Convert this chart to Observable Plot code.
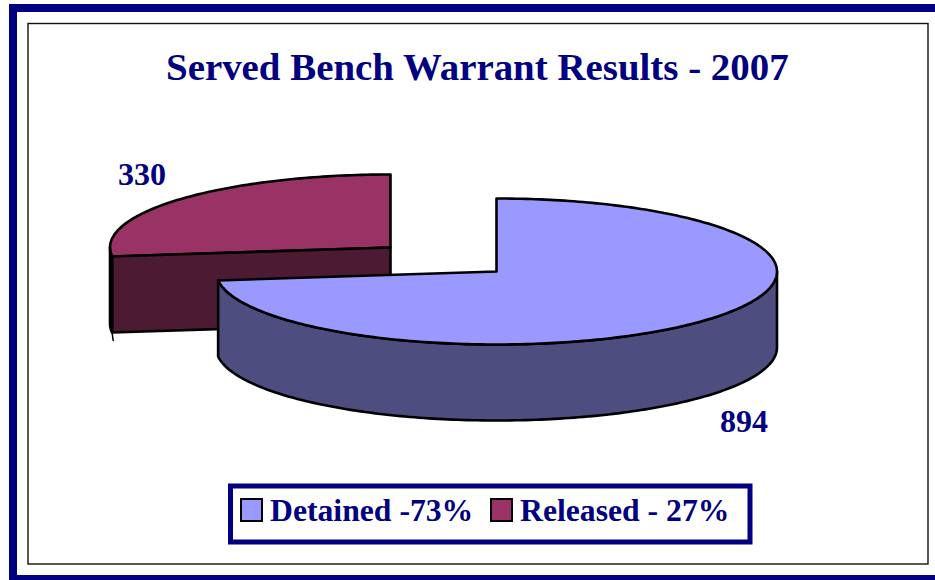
<!DOCTYPE html>
<html>
<head>
<meta charset="utf-8">
<script src="https://cdn.jsdelivr.net/npm/d3@7"></script>
<script src="https://cdn.jsdelivr.net/npm/@observablehq/plot@0.6"></script>
<style>html,body{margin:0;padding:0;background:#fff;overflow:hidden}svg{display:block}</style>
</head>
<body>
<div id="chart"></div>
<script>
const categories = ["Detained", "Released"];
const counts = [894, 330];
const legendLabels = ["Detained -73%", "Released - 27%"];
const countLabels = ["894", "330"];
const titleText = "Served Bench Warrant Results - 2007";

const navy = "#000080";
const serif = "'Liberation Serif','Times New Roman',serif";
const topColors = ["#9999FF", "#993366"];
const sideColors = ["#4D4D80", "#4D1A33"];

const W = 935, H = 580;
const rx = 280.5, ry = 73, depth = 76;
const centers = [[496, 271], [390, 247]];
const labelAt = [[719.5, 431.5], [117.5, 184]];
const swatchX = [241, 491], legendTextX = [269.5, 519.5];

const total = d3.sum(counts);
const rad = d => d * Math.PI / 180;
const rim = (c, t, dz = 0) => ({x: c[0] + rx * Math.sin(t), y: c[1] - ry * Math.cos(t) + dz});
const arc = (c, t0, t1, dz = 0) => {
  const n = Math.max(2, Math.ceil(Math.abs(t1 - t0) / rad(1)));
  return d3.range(n + 1).map(i => rim(c, t0 + (t1 - t0) * i / n, dz));
};

let acc = 0;
const slices = counts.map((v, i) => {
  const t0 = acc / total * 2 * Math.PI;
  acc += v;
  return {i, c: centers[i], t0, t1: acc / total * 2 * Math.PI};
});

const poly = (pts, fill, strokeWidth = 2.6) =>
  Plot.line([...pts, pts[0]], {x: "x", y: "y", fill, stroke: "#000", strokeWidth, strokeLinejoin: "round", curve: "linear"});

// Outer wall: the part of a slice's rim that faces the viewer
const wall = s => {
  const a = Math.max(s.t0, rad(90)), b = Math.min(s.t1, rad(270));
  return [...arc(s.c, a, b), ...arc(s.c, b, a, depth)];
};
const topFace = s => [{x: s.c[0], y: s.c[1]}, ...arc(s.c, s.t0, s.t1)];
// Cut face along the radius at the start of the released slice
const cutFace = s => {
  const p = rim(s.c, s.t0);
  return [{x: s.c[0], y: s.c[1]}, p, {x: p.x, y: p.y + depth}, {x: s.c[0], y: s.c[1] + depth}];
};

const [det, rel] = slices;
const relEdge = rim(rel.c, rel.t0, depth);
const box = (x1, y1, x2, y2, o) => Plot.rect([{x1, y1, x2, y2}], {x1: "x1", y1: "y1", x2: "x2", y2: "y2", ...o});
const text = (str, x, y, size) => Plot.text([str], {
  x: () => x, y: () => y, text: d => d, fontFamily: serif, fontWeight: "bold",
  fontSize: size, fill: navy, textAnchor: "start", lineAnchor: "bottom"
});

const plot = Plot.plot({
  width: W, height: H, margin: 0,
  x: {domain: [0, W], range: [0, W], axis: null},
  y: {domain: [0, H], range: [0, H], axis: null},
  style: {background: "#fff"},
  marks: [
    // outer frame
    box(9, 4, W, 580, {fill: navy}),
    box(17, 12, W, 575, {fill: "#fff"}),
    box(28, 23.5, 928, 564, {fill: "#fff", stroke: "#111", strokeWidth: 1.4}),
    // released slice
    poly(topFace(rel), topColors[1]),
    poly(cutFace(rel), sideColors[1]),
    poly(wall(rel), sideColors[1]),
    Plot.line([relEdge, {x: relEdge.x + 1, y: relEdge.y + 8}], {x: "x", y: "y", stroke: "#000", strokeWidth: 1.5}),
    // detained slice
    poly(wall(det), sideColors[0]),
    poly(topFace(det), topColors[0]),
    // title and count labels
    text(titleText, 165.5, 79, 38.9),
    ...countLabels.map((l, i) => text(l, labelAt[i][0], labelAt[i][1], 32)),
    // legend
    box(230.5, 486, 750, 542, {fill: "#fff", stroke: navy, strokeWidth: 5}),
    ...categories.map((c, i) => box(swatchX[i], 499, swatchX[i] + 21, 521, {fill: topColors[i], stroke: "#000", strokeWidth: 2})),
    ...legendLabels.map((l, i) => text(l, legendTextX[i], 520, 31.7))
  ]
});
document.getElementById("chart").append(plot);
</script>
</body>
</html>
